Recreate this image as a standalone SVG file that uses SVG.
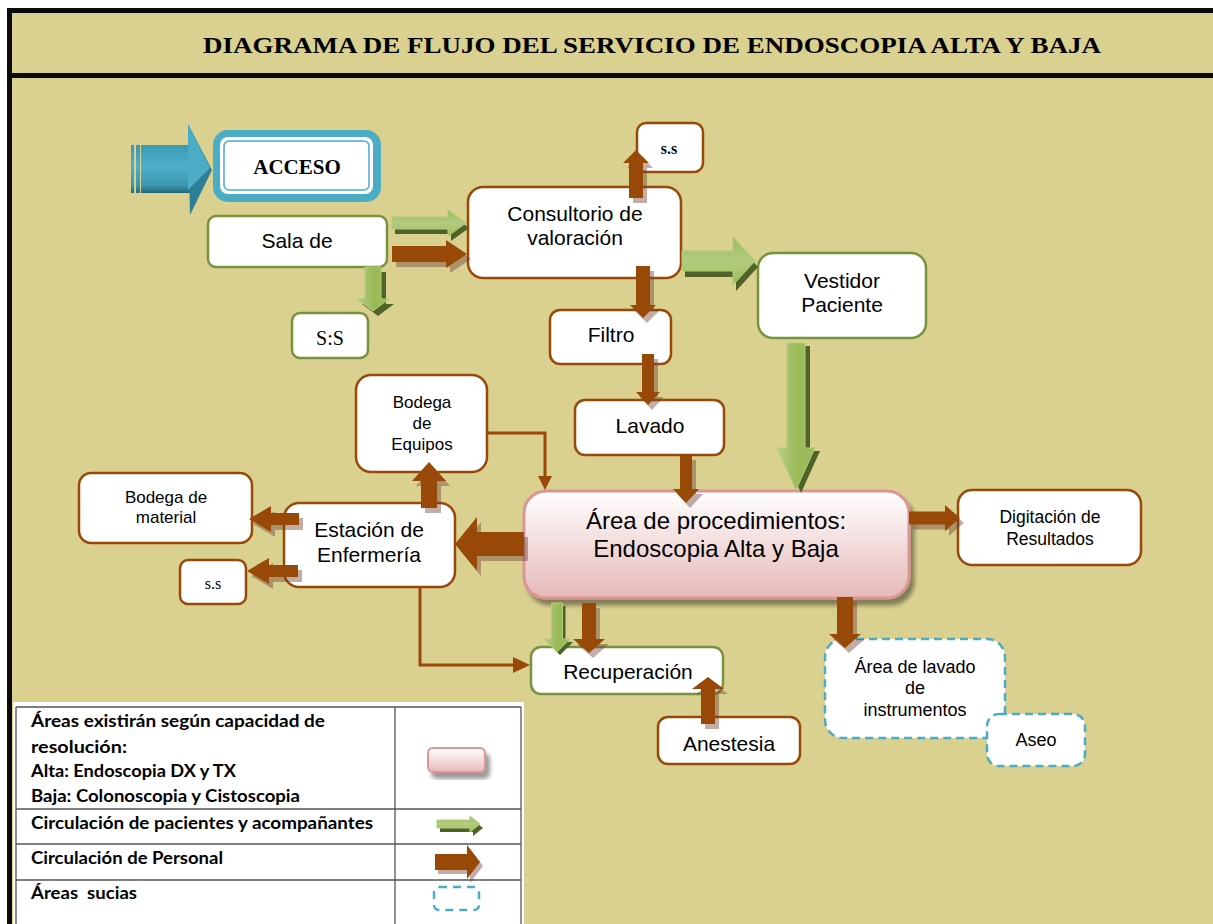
<svg xmlns="http://www.w3.org/2000/svg" width="1213" height="924" viewBox="0 0 1213 924">
<defs>
<style>
.bg{fill:#DAD08F}
.bar{fill:#0b0b0b}
.nb{fill:#fff;stroke:#984807;stroke-width:2.5}
.ng{fill:#fff;stroke:#77933C;stroke-width:2.5}
.nd{fill:#fff;stroke:#4BACC6;stroke-width:2.5;stroke-dasharray:8 5}
.t{font-family:"Liberation Sans",Arial,sans-serif;fill:#000;text-anchor:middle}
.ts{font-family:"Liberation Serif","Times New Roman",serif;fill:#000;text-anchor:middle}
.lg{font-family:Lato,"Open Sans",sans-serif;font-weight:bold;font-size:16.5px;fill:#000;white-space:pre}
.ab{fill:#984807}
.abs{fill:#6E3C32;opacity:0.42}
.agv{fill:url(#gGv);stroke:#B4CC7A;stroke-width:1}
.agh{fill:url(#gGh);stroke:#B4CC7A;stroke-width:1}
.ags{fill:#4F6228}
.ln{fill:none;stroke:#984807;stroke-width:3}
.grid{stroke:#555;stroke-width:1.3}
</style>
<linearGradient id="gGv" x1="0" y1="0" x2="0" y2="1"><stop offset="0" stop-color="#9BBB59"/><stop offset="0.5" stop-color="#B3CC80"/><stop offset="1" stop-color="#9BBB59"/></linearGradient>
<linearGradient id="gGh" x1="0" y1="0" x2="1" y2="0"><stop offset="0" stop-color="#B7CF86"/><stop offset="0.5" stop-color="#9BBB59"/><stop offset="1" stop-color="#9BBB59"/></linearGradient>
<linearGradient id="gPink" x1="0" y1="0" x2="0" y2="1"><stop offset="0" stop-color="#FFFFFF"/><stop offset="1" stop-color="#E6B9B8"/></linearGradient>
<linearGradient id="gTeal" x1="0" y1="0" x2="0" y2="1"><stop offset="0" stop-color="#3B9AB3"/><stop offset="0.45" stop-color="#4DAFC8"/><stop offset="0.85" stop-color="#3A95AE"/><stop offset="1" stop-color="#24667A"/></linearGradient>
<filter id="sh" x="-10%" y="-10%" width="130%" height="140%"><feGaussianBlur in="SourceAlpha" stdDeviation="2"/><feOffset dx="4" dy="6" result="o"/><feComponentTransfer><feFuncA type="linear" slope="0.4"/></feComponentTransfer><feMerge><feMergeNode/><feMergeNode in="SourceGraphic"/></feMerge></filter>
</defs>

<rect width="1213" height="924" fill="#fff"/>
<rect class="bg" x="12" y="12" width="1201" height="912"/>
<rect class="bar" x="7" y="8" width="1206" height="5"/>
<rect class="bar" x="7" y="8" width="5" height="916"/>
<rect class="bar" x="12" y="73" width="1201" height="5"/>
<text x="203" y="53" font-family="Liberation Serif,Times New Roman,serif" font-weight="bold" font-size="23" textLength="898" lengthAdjust="spacingAndGlyphs">DIAGRAMA DE FLUJO DEL SERVICIO DE ENDOSCOPIA ALTA Y BAJA</text>

<g id="acceso-arrow">
<rect x="131" y="145" width="3" height="48" fill="url(#gTeal)"/>
<rect x="136" y="145" width="4" height="48" fill="url(#gTeal)"/>
<rect x="141" y="145" width="49" height="48" fill="url(#gTeal)"/>
<polygon points="188,124 212,170 190,215" fill="#2C7F96"/>
<polygon points="188,124 210,168 188,190" fill="#4BACC6"/>
</g>

<g id="acceso">
<rect x="213" y="130" width="168" height="72" rx="15" fill="#4BACC6"/>
<rect x="220" y="137" width="153" height="57" rx="8" fill="#fff"/>
<rect x="224" y="141" width="145" height="49" rx="5" fill="#fff" stroke="#4BACC6" stroke-width="1.5"/>
<text class="ts" x="297" y="174" font-size="21" font-weight="bold">ACCESO</text>
</g>

<g id="sala">
<rect class="ng" x="208" y="216" width="179" height="51" rx="8"/>
<text class="t" x="297" y="248" font-size="21">Sala de</text>
</g>

<g id="ss1">
<rect class="ng" x="292" y="313" width="76" height="45" rx="8"/>
<text class="ts" x="330" y="345" font-size="20">S:S</text>
</g>

<g id="consultorio">
<rect class="nb" x="468" y="187" width="213" height="91" rx="15"/>
<text class="t" x="575" y="221" font-size="21">Consultorio de</text>
<text class="t" x="575" y="245" font-size="21">valoración</text>
</g>

<g id="ss2">
<rect class="nb" x="637" y="123" width="66" height="49" rx="9"/>
<text class="ts" x="669" y="154" font-size="16" font-weight="bold">s.s</text>
</g>

<g id="vestidor">
<rect class="ng" x="758" y="253" width="168" height="85" rx="15"/>
<text class="t" x="842" y="288" font-size="21">Vestidor</text>
<text class="t" x="842" y="312" font-size="21">Paciente</text>
</g>

<g id="filtro">
<rect class="nb" x="550" y="310" width="121" height="54" rx="10"/>
<text class="t" x="611" y="342" font-size="21">Filtro</text>
</g>

<g id="lavado">
<rect class="nb" x="575" y="400" width="149" height="55" rx="10"/>
<text class="t" x="650" y="433" font-size="21">Lavado</text>
</g>

<g id="bodega-equipos">
<rect class="nb" x="356" y="375" width="131" height="97" rx="15"/>
<text class="t" x="422" y="408" font-size="17">Bodega</text>
<text class="t" x="422" y="429" font-size="17">de</text>
<text class="t" x="422" y="450" font-size="17">Equipos</text>
</g>

<g id="area-procedimientos">
<rect x="524" y="491" width="385" height="107" rx="22" fill="url(#gPink)" stroke="#D99694" stroke-width="3" filter="url(#sh)"/>
<text class="t" x="716" y="529" font-size="24">Área de procedimientos:</text>
<text class="t" x="716" y="557" font-size="24">Endoscopia Alta y Baja</text>
</g>

<g id="bodega-material">
<rect class="nb" x="79" y="473" width="173" height="70" rx="12"/>
<text class="t" x="166" y="503" font-size="17">Bodega de</text>
<text class="t" x="166" y="523" font-size="17">material</text>
</g>

<g id="estacion">
<rect class="nb" x="284" y="503" width="171" height="84" rx="15"/>
<text class="t" x="369" y="537" font-size="21">Estación de</text>
<text class="t" x="369" y="562" font-size="21">Enfermería</text>
</g>

<g id="ss3">
<rect class="nb" x="180" y="560" width="66" height="44" rx="8"/>
<text class="ts" x="213" y="589" font-size="16">s.s</text>
</g>

<g id="digitacion">
<rect class="nb" x="958" y="490" width="183" height="75" rx="14"/>
<text class="t" x="1050" y="523" font-size="17.5">Digitación de</text>
<text class="t" x="1050" y="545" font-size="17.5">Resultados</text>
</g>

<g id="recuperacion">
<rect class="ng" x="531" y="647" width="192" height="47" rx="10"/>
<text class="t" x="628" y="679" font-size="21">Recuperación</text>
</g>

<g id="anestesia">
<rect class="nb" x="658" y="717" width="142" height="47" rx="10"/>
<text class="t" x="729" y="751" font-size="21">Anestesia</text>
</g>

<g id="area-lavado">
<rect class="nd" x="825" y="639" width="180" height="99" rx="18"/>
<text class="t" x="915" y="673" font-size="18">Área de lavado</text>
<text class="t" x="915" y="694" font-size="18">de</text>
<text class="t" x="915" y="716" font-size="18">instrumentos</text>
</g>

<g id="aseo">
<rect class="nd" x="987" y="714" width="98" height="52" rx="12"/>
<text class="t" x="1036" y="746" font-size="18">Aseo</text>
</g>

<g id="connectors">
<polyline class="ln" points="488,433 545,433 545,478"/>
<polygon class="ab" points="538,476 552,476 545,490"/>
<polyline class="ln" points="420,587 420,665 515,665"/>
<polygon class="ab" points="513,657 530,665 513,673"/>

<g transform="translate(3,5)"><polygon class="ags" points="392,217 448,217 448,210 466,223 448,236 448,229 392,229"/></g>
<polygon class="agv" points="392,217 448,217 448,210 466,223 448,236 448,229 392,229"/>

<g transform="translate(5,5)"><polygon class="ags" points="365,267 381,267 381,299 389,299 373,311 357,299 365,299"/></g>
<polygon class="agh" points="365,267 381,267 381,299 389,299 373,311 357,299 365,299"/>

<g transform="translate(3,6)"><polygon class="ags" points="682,251 733,251 733,237 755,261 733,285 733,271 682,271"/></g>
<polygon class="agv" points="682,251 733,251 733,237 755,261 733,285 733,271 682,271"/>

<g transform="translate(5,3)"><polygon class="ags" points="787,343 805,343 805,448 815,448 796,490 777,448 787,448"/></g>
<polygon class="agh" points="787,343 805,343 805,448 815,448 796,490 777,448 787,448"/>

<g transform="translate(3,3)"><polygon class="ags" points="551.5,603 562.5,603 562.5,639 570,639 557,652 544,639 551.5,639"/></g>
<polygon class="agh" points="551.5,603 562.5,603 562.5,639 570,639 557,652 544,639 551.5,639"/>

<g transform="translate(4,5)">
<polygon class="abs" points="392,246 446,246 446,240 467,254 446,268 446,262 392,262"/>
<polygon class="abs" points="629,198 643,198 643,163 649,163 636,150 623,163 629,163"/>
<polygon class="abs" points="636,266 650,266 650,305 656,305 643,318 630,305 636,305"/>
<polygon class="abs" points="642,354 654,354 654,392 660,392 648,405 636,392 642,392"/>
<polygon class="abs" points="680,455 692,455 692,489 699,489 686,503 673,489 680,489"/>
<polygon class="abs" points="524,532 477,532 477,517 455,544 477,571 477,556 524,556"/>
<polygon class="abs" points="421,508 437,508 437,481 446,481 429,462 412,481 421,481"/>
<polygon class="abs" points="299,513 271,513 271,506 249,519 271,532 271,525 299,525"/>
<polygon class="abs" points="298,565 269,565 269,558 247,571 269,584 269,577 298,577"/>
<polygon class="abs" points="582,603 596,603 596,639 605,639 589,653 573,639 582,639"/>
<polygon class="abs" points="701,724 715,724 715,689 724,689 708,677 692,689 701,689"/>
<polygon class="abs" points="909,511.5 945,511.5 945,505 960,518 945,531 945,524.5 909,524.5"/>
<polygon class="abs" points="837,597 853,597 853,634 861,634 845,648 829,634 837,634"/>
</g>
<polygon class="ab" points="392,246 446,246 446,240 467,254 446,268 446,262 392,262"/>
<polygon class="ab" points="629,198 643,198 643,163 649,163 636,150 623,163 629,163"/>
<polygon class="ab" points="636,266 650,266 650,305 656,305 643,318 630,305 636,305"/>
<polygon class="ab" points="642,354 654,354 654,392 660,392 648,405 636,392 642,392"/>
<polygon class="ab" points="680,455 692,455 692,489 699,489 686,503 673,489 680,489"/>
<polygon class="ab" points="524,532 477,532 477,517 455,544 477,571 477,556 524,556"/>
<polygon class="ab" points="421,508 437,508 437,481 446,481 429,462 412,481 421,481"/>
<polygon class="ab" points="299,513 271,513 271,506 249,519 271,532 271,525 299,525"/>
<polygon class="ab" points="298,565 269,565 269,558 247,571 269,584 269,577 298,577"/>
<polygon class="ab" points="582,603 596,603 596,639 605,639 589,653 573,639 582,639"/>
<polygon class="ab" points="701,724 715,724 715,689 724,689 708,677 692,689 701,689"/>
<polygon class="ab" points="909,511.5 945,511.5 945,505 960,518 945,531 945,524.5 909,524.5"/>
<polygon class="ab" points="837,597 853,597 853,634 861,634 845,648 829,634 837,634"/>
</g>

<g id="legend">
<rect x="13" y="702" width="511" height="222" fill="#fff"/>
<line class="grid" x1="16" y1="707" x2="521" y2="707"/>
<line class="grid" x1="16" y1="707" x2="16" y2="924"/>
<line class="grid" x1="521" y1="707" x2="521" y2="924"/>
<line class="grid" x1="395" y1="707" x2="395" y2="924"/>
<line class="grid" x1="16" y1="809" x2="521" y2="809"/>
<line class="grid" x1="16" y1="844" x2="521" y2="844"/>
<line class="grid" x1="16" y1="880" x2="521" y2="880"/>
<text class="lg" x="31" y="727" textLength="294" lengthAdjust="spacingAndGlyphs">Áreas existirán según capacidad de</text>
<text class="lg" x="31" y="753" textLength="96" lengthAdjust="spacingAndGlyphs">resolución:</text>
<text class="lg" x="31" y="777" textLength="205" lengthAdjust="spacingAndGlyphs">Alta: Endoscopia DX y TX</text>
<text class="lg" x="31" y="802" textLength="269" lengthAdjust="spacingAndGlyphs">Baja: Colonoscopia y Cistoscopia</text>
<text class="lg" x="31" y="829" textLength="342" lengthAdjust="spacingAndGlyphs">Circulación de pacientes y acompañantes</text>
<text class="lg" x="31" y="864" textLength="192" lengthAdjust="spacingAndGlyphs">Circulación de Personal</text>
<text class="lg" x="31" y="899" textLength="106" lengthAdjust="spacingAndGlyphs" xml:space="preserve">Áreas  sucias</text>
<rect x="428" y="748" width="57" height="24" rx="5" fill="url(#gPink)" stroke="#D99694" stroke-width="2" filter="url(#sh)"/>
<g transform="translate(3,4)"><polygon class="ags" points="437,820 470,820 470,816 480,824 470,832 470,828 437,828"/></g>
<polygon class="agv" points="437,820 470,820 470,816 480,824 470,832 470,828 437,828"/>
<g transform="translate(3,4)"><polygon class="abs" points="435,854 467,854 467,845 480,862 467,879 467,870 435,870"/></g>
<polygon class="ab" points="435,854 467,854 467,845 480,862 467,879 467,870 435,870"/>
<rect x="434" y="887" width="45" height="23" rx="5" fill="none" stroke="#4BACC6" stroke-width="2.5" stroke-dasharray="8 6"/>
</g>
</svg>
